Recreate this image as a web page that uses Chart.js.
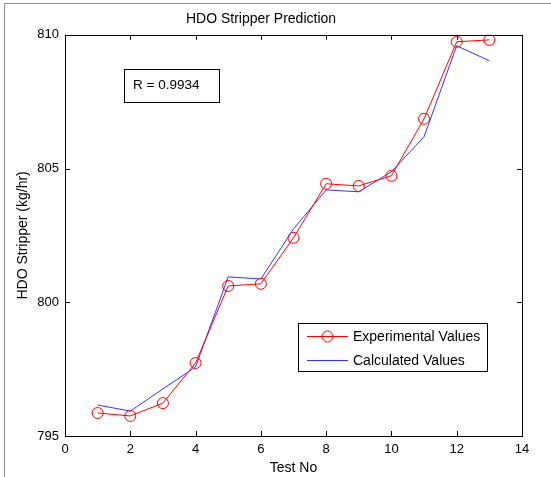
<!DOCTYPE html>
<html>
<head>
<meta charset="utf-8">
<script src="https://cdn.jsdelivr.net/npm/chart.js@4/dist/chart.umd.min.js"></script>
<style>
  html, body { margin: 0; padding: 0; background: #fff; }
  #wrap { width: 551px; height: 477px; }
</style>
</head>
<body>
<div id="wrap"><canvas id="hdoChart" width="551" height="477"></canvas></div>
<script>
const testNo = [1, 2, 3, 4, 5, 6, 7, 8, 9, 10, 11, 12, 13];
const experimental = [795.86, 795.75, 796.23, 797.73, 800.61, 800.69, 802.41, 804.43, 804.35, 804.73, 806.86, 809.74, 809.81];
const calculated = [796.16, 795.93, 796.76, 797.58, 800.95, 800.87, 802.74, 804.20, 804.13, 804.88, 806.19, 809.59, 809.03];
const xTicks = [0, 2, 4, 6, 8, 10, 12, 14];
const yTicks = [795, 800, 805, 810];
const rText = 'R = 0.9934';

const FONT = '"Liberation Sans", Arial, sans-serif';

// matlab style: box, inward ticks on all sides, text boxes
const matlabDecor = {
    id: 'matlabDecor',
    afterDraw(chart) {
        const c = chart.ctx;
        const a = chart.chartArea;
        const xs = chart.scales.x, ys = chart.scales.y;
        c.save();

        // figure frame (grey, top + left)
        c.strokeStyle = '#8c8c8c';
        c.lineWidth = 1;
        c.beginPath();
        c.moveTo(4.5, 477); c.lineTo(4.5, 3.5); c.lineTo(551, 3.5);
        c.stroke();

        // axes box
        c.strokeStyle = '#000';
        c.lineWidth = 1;
        c.strokeRect(Math.round(a.left) + 0.5, Math.round(a.top) + 0.5,
            Math.round(a.right - a.left), Math.round(a.bottom - a.top));

        // inward ticks
        c.beginPath();
        xTicks.forEach(v => {
            const px = Math.round(xs.getPixelForValue(v)) + 0.5;
            c.moveTo(px, a.bottom); c.lineTo(px, a.bottom - 5);
            c.moveTo(px, a.top); c.lineTo(px, a.top + 5);
        });
        yTicks.forEach(v => {
            const py = Math.round(ys.getPixelForValue(v)) + 0.5;
            c.moveTo(a.left, py); c.lineTo(a.left + 5, py);
            c.moveTo(a.right, py); c.lineTo(a.right - 5, py);
        });
        c.stroke();

        // axis titles
        c.fillStyle = '#000';
        c.font = '14px ' + FONT;
        c.textAlign = 'center';
        c.textBaseline = 'middle';
        c.fillText('Test No', (a.left + a.right) / 2, 468);
        c.save();
        c.translate(23, (a.top + a.bottom) / 2);
        c.rotate(-Math.PI / 2);
        c.fillText('HDO Stripper (kg/hr)', 0, 0);
        c.restore();

        // R annotation
        c.fillStyle = '#fff';
        c.fillRect(124.5, 69.5, 95, 33);
        c.strokeRect(124.5, 69.5, 95, 33);
        c.fillStyle = '#000';
        c.textAlign = 'left';
        c.font = '13.5px ' + FONT;
        c.fillText(rText, 133, 85);

        // legend
        c.font = '14px ' + FONT;
        c.fillStyle = '#fff';
        c.fillRect(298.5, 323.5, 189, 48);
        c.strokeRect(298.5, 323.5, 189, 48);
        const ds = chart.data.datasets;
        const rows = [336, 360];
        ds.forEach((d, i) => {
            const y = rows[i] + 0.5;
            c.strokeStyle = d.borderColor;
            c.lineWidth = 1;
            c.beginPath();
            c.moveTo(307, y); c.lineTo(348, y);
            c.stroke();
            if (d.pointRadius > 0) {
                c.beginPath();
                c.arc(327.5, y, d.pointRadius, 0, Math.PI * 2);
                c.stroke();
            }
            c.fillStyle = '#000';
            c.fillText(d.label, 353, rows[i] + 1);
        });
        c.restore();
    }
};

const ctx = document.getElementById('hdoChart').getContext('2d');
new Chart(ctx, {
    type: 'line',
    data: {
        datasets: [
            {
                label: 'Experimental Values',
                data: testNo.map((x, i) => ({x, y: experimental[i]})),
                borderColor: '#ff0000',
                backgroundColor: 'rgba(0,0,0,0)',
                borderWidth: 1,
                pointRadius: 5.5,
                pointBorderWidth: 1,
                pointBorderColor: '#ff0000',
                pointBackgroundColor: 'rgba(0,0,0,0)',
                tension: 0,
            },
            {
                label: 'Calculated Values',
                data: testNo.map((x, i) => ({x, y: calculated[i]})),
                borderColor: '#3333ff',
                backgroundColor: 'rgba(0,0,0,0)',
                borderWidth: 1,
                pointRadius: 0,
                tension: 0,
            },
        ],
    },
    options: {
        responsive: false,
        animation: false,
        layout: {padding: {top: 3, right: 29, left: 0, bottom: 0}},
        plugins: {
            legend: {display: false},
            tooltip: {enabled: false},
            title: {
                display: true,
                text: 'HDO Stripper Prediction',
                color: '#000',
                font: {family: FONT, size: 14, weight: 'normal'},
                padding: {top: 8, bottom: 7},
            },
        },
        scales: {
            x: {
                type: 'linear',
                min: 0,
                max: 14,
                afterFit: (s) => { s.height = 41; },
                afterBuildTicks: (s) => { s.ticks = xTicks.map(v => ({value: v})); },
                grid: {display: false, drawTicks: false},
                border: {display: false},
                ticks: {
                    color: '#000',
                    padding: 6,
                    maxRotation: 0,
                    font: {family: FONT, size: 13},
                },
            },
            y: {
                type: 'linear',
                min: 795,
                max: 810,
                afterFit: (s) => { s.width = 65; },
                afterBuildTicks: (s) => { s.ticks = yTicks.map(v => ({value: v})); },
                grid: {display: false, drawTicks: false},
                border: {display: false},
                ticks: {
                    color: '#000',
                    padding: 6,
                    font: {family: FONT, size: 13},
                },
            },
        },
    },
    plugins: [matlabDecor],
});
</script>
</body>
</html>
